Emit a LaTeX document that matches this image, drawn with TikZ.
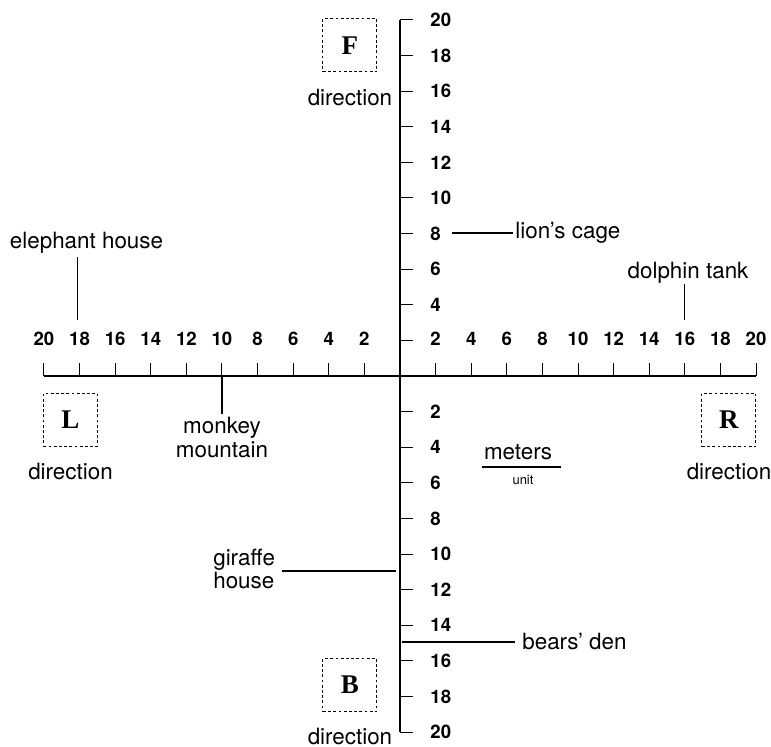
\documentclass[tikz,border=0pt]{standalone}
\usepackage{fontspec}
\setmainfont{TeX Gyre Heros}
\newfontfamily\letterfont{Liberation Serif}
\begin{document}
\begin{tikzpicture}[x=8.9pt,y=8.9pt,
    axisline/.style={line width=0.6pt},
    tickline/.style={line width=0.5pt},
    num/.style={font=\fontsize{9.3}{11}\selectfont\bfseries,inner sep=0pt},
    place/.style={font=\fontsize{11.2}{11.8}\selectfont,inner sep=0pt},
    dirbox/.style={draw,dash pattern=on 1.4pt off 1.2pt,line width=0.5pt,
      minimum width=27pt,minimum height=26.5pt,inner sep=0pt,
      font=\letterfont\bfseries\fontsize{13.5}{16}\selectfont},
    leader/.style={line width=0.6pt}]
  \useasboundingbox (-22.47,-20.79) rectangle (20.84,21.12);

  % axes
  \coordinate (xmin) at (-20,0);
  \coordinate (xmax) at (20,0);
  \coordinate (ymax) at (0,20);
  \coordinate (ymin) at (0,-20);
  \draw[axisline] (xmin) -- (xmax);
  \draw[axisline] (ymax) -- (ymin);
  \foreach \x in {2,4,...,20} {
    \draw[tickline] (\x,0) -- (\x,0.73);
    \draw[tickline] (-\x,0) -- (-\x,0.73);
    \node[num] (hr\x) at (\x,2.08) {\x};
    \node[num] (hl\x) at (-\x,2.08) {\x};
  }
  \foreach \y in {2,4,...,20} {
    \draw[tickline] (0,\y) -- (0.73,\y);
    \draw[tickline] (0,-\y) -- (0.73,-\y);
    \node[num,anchor=west] (vd\y) at (1.69,-\y) {\y};
  }
  % the upper 2 is shared with the horizontal scale
  \foreach \y in {4,6,...,20}
    \node[num,anchor=west] (vu\y) at (1.69,\y) {\y};

  % direction boxes
  \node[dirbox] (F) at (-2.81,18.57) {F};
  \node[place] (Fdir) at (-2.81,15.62) {direction};
  \node[dirbox] (L) at (-18.51,-2.47) {L};
  \node[place] (Ldir) at (-18.51,-5.39) {direction};
  \node[dirbox] (R) at (18.48,-2.47) {R};
  \node[place] (Rdir) at (18.48,-5.39) {direction};
  \node[dirbox] (B) at (-2.81,-17.36) {B};
  \node[place] (Bdir) at (-2.81,-20.25) {direction};

  % places
  \node[place] (eleph) at (-17.61,7.47) {elephant house};
  \coordinate (elephpt) at (-18.1,3.15);
  \draw[leader,shorten >=1.5pt] (elephpt) -- (elephpt |- eleph.south);

  \node[place,align=center] (monkey) at (-10,-3.47) {monkey\\mountain};
  \coordinate (monkeypt) at (-10,0);
  \draw[leader,shorten >=1.8pt] (monkeypt) -- (monkeypt |- monkey.north);

  \node[place,anchor=west] (lion) at (6.46,8.03) {lion’s cage};
  \coordinate (lionpt) at (2.92,8.03);
  \draw[leader,shorten >=1pt] (lionpt) -- (lion.west);

  \node[place] (dolphin) at (16.18,5.79) {dolphin tank};
  \coordinate (dolphinpt) at (16,3.15);
  \draw[leader] (dolphinpt) -- (dolphinpt |- dolphin.south);

  \node[place,align=left,anchor=west] (giraffe) at (-10.51,-10.84) {giraffe\\house};
  \coordinate (giraffept) at (-0.22,-10.96);
  \draw[leader,shorten >=3.5pt] (giraffept) -- (giraffept -| giraffe.east);

  \node[place,anchor=west] (bears) at (6.85,-14.94) {bears’ den};
  \coordinate (bearspt) at (0.11,-14.94);
  \draw[leader,shorten >=3.5pt] (bearspt) -- (bears.west);

  % unit
  \node[place] (meters) at (6.63,-4.3) {meters};
  \coordinate (fracl) at (4.61,-5.11);
  \coordinate (fracr) at (9.04,-5.11);
  \draw[leader] (fracl) -- (fracr);
  \node[font=\fontsize{6.5}{8}\selectfont,inner sep=0pt] (unit) at (6.91,-5.84) {unit};
\end{tikzpicture}
\end{document}
